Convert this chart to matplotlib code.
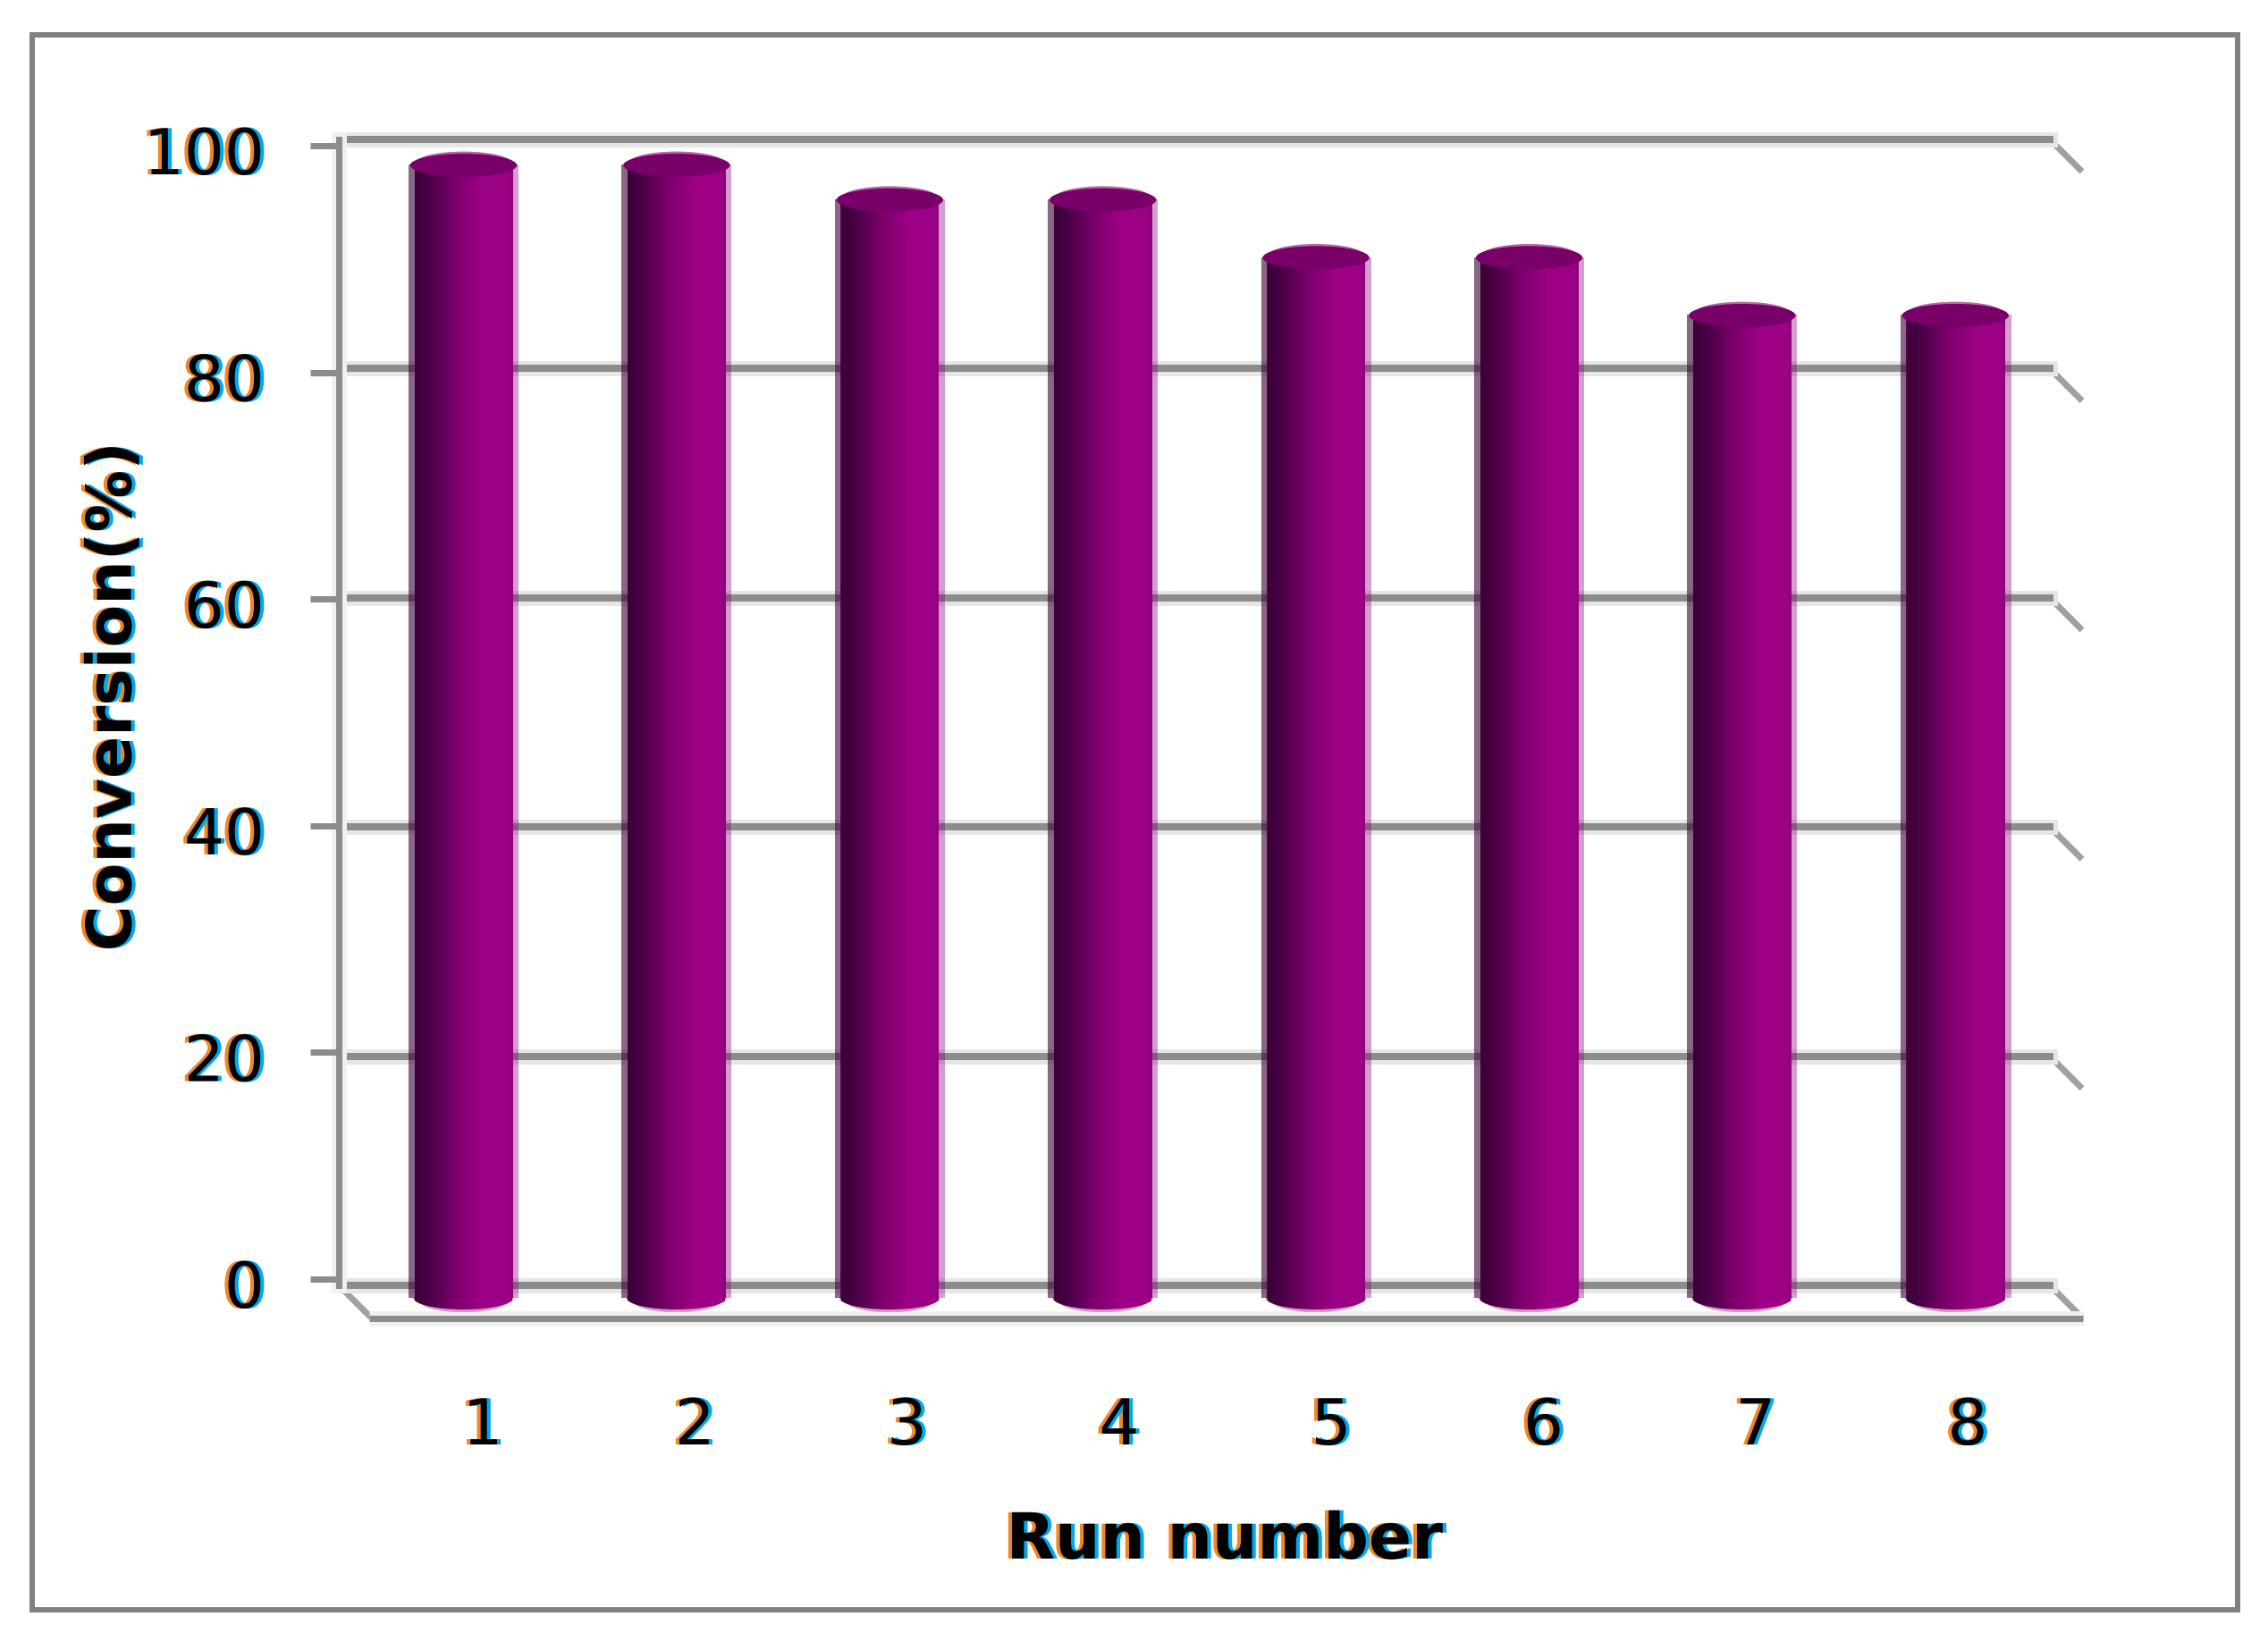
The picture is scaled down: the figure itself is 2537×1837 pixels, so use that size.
import numpy as np
import matplotlib
matplotlib.use("Agg")
import matplotlib.pyplot as plt
import matplotlib.patheffects as pe
from matplotlib.patches import Ellipse, Rectangle
from matplotlib.colors import to_rgba
from matplotlib.transforms import ScaledTranslation

runs = [1, 2, 3, 4, 5, 6, 7, 8]
conversion = [98, 98, 95, 95, 90, 90, 85, 85]
y_ticks = [0, 20, 40, 60, 80, 100]
x_label = "Run number"
y_label = "Conversion(%)"

W, H = 2537, 1837
DPI = 100
GREY = "#8c8c8c"
PX = 72 / DPI

plt.rcParams["font.family"] = ["DejaVu Sans"]
fig = plt.figure(figsize=(W / DPI, H / DPI), dpi=DPI, facecolor="white")


def rect(x0, x1, ytop, ybot):
    return [x0 / W, 1 - ybot / H, (x1 - x0) / W, (ybot - ytop) / H]


fringe = [pe.PathPatchEffect(offset=(-3.0, 0), facecolor="#f08820", edgecolor="none"),
          pe.PathPatchEffect(offset=(3.0, 0), facecolor="#00a8f0", edgecolor="none"),
          pe.Normal()]

# page overlay in pixels: frame, floor, depth lines
page = fig.add_axes([0, 0, 1, 1], zorder=0)
page.set_xlim(0, W)
page.set_ylim(H, 0)
page.axis("off")
page.add_patch(Rectangle((36, 39), 2467, 1762, fill=False, ec="#808080", lw=6 * PX))

# back wall
WL, WR, WT, WB = 379, 2293, 156, 1438
DEPTH_X, DEPTH_Y = 36, 36
wall = fig.add_axes(rect(WL, WR, WT, WB), zorder=1, facecolor="none")
wall.set_ylim(0, 100)
wall.set_xlim(0, 1)
wall.set_yticks(y_ticks)
wall.set_xticks([])
wall.tick_params(left=False, labelleft=False)
for s in ["top", "right", "bottom"]:
    wall.spines[s].set_visible(False)
wall.spines["left"].set_color(GREY)
wall.spines["left"].set_linewidth(7 * PX)
wall.spines["left"].set_path_effects(
    [pe.Stroke(linewidth=17 * PX, foreground="#f0f0f0"), pe.Normal()])
wall.grid(axis="y", color=GREY, lw=8 * PX, zorder=1, clip_on=False,
          path_effects=[pe.Stroke(linewidth=17 * PX, foreground="#e6e6e6"), pe.Normal()])

scale = (WB - WT) / 100
for v in y_ticks:
    y = WB - v * scale
    page.plot([WR, WR + DEPTH_X], [y, y + DEPTH_Y], color="#a0a0a0", lw=7 * PX,
              solid_capstyle="butt")
page.plot([WL, WL + DEPTH_X], [WB, WB + DEPTH_Y], color="#a0a0a0", lw=7 * PX,
          solid_capstyle="butt")
page.plot([WL + DEPTH_X - 2, WR + DEPTH_X + 1], [WB + DEPTH_Y + 1, WB + DEPTH_Y + 1],
          color=GREY, lw=7 * PX, solid_capstyle="butt",
          path_effects=[pe.Stroke(linewidth=17 * PX, foreground="#f0f0f0"), pe.Normal()])

# axis scale: tick marks and labels
scl = fig.add_axes(rect(WL, WR, 163, 1431), zorder=2, facecolor="none")
scl.set_ylim(0, 100)
scl.set_xlim(1 + (WL - 540) / 237.29, 1 + (WR - 540) / 237.29)
scl.set_yticks(y_ticks)
scl.set_xticks(runs)
for s in scl.spines.values():
    s.set_visible(False)
scl.tick_params(axis="y", color=GREY, width=7 * PX, length=32 * PX, pad=51 * PX,
                labelsize=51, labelcolor="black")
scl.tick_params(axis="x", length=0, pad=131 * PX, labelsize=51, labelcolor="black")
for t in scl.get_xticklabels() + scl.get_yticklabels():
    t.set_path_effects(fringe)
for t in scl.get_yticklabels():
    t.set_transform(t.get_transform() + ScaledTranslation(0, -5 / DPI, fig.dpi_scale_trans))
fig.text(1370 / W, 1 - 1724 / H, x_label, fontsize=51, fontweight="bold",
         ha="center", va="center", path_effects=fringe)
fig.text(127 / W, 1 - 779 / H, y_label, fontsize=50, fontweight="bold", rotation=90,
         ha="center", va="center", path_effects=fringe)

# cylinders
unit = (1452 - 159) / 100
ell_h = 26 / unit
bars = fig.add_axes(rect(WL, WR, 159, 1452 + 16), zorder=3, facecolor="none")
bars.axis("off")
step = 238.4
xlim = (1 + (WL - 518.5) / step, 1 + (WR - 518.5) / step)
outer = 123 / step
inner = 110 / step

stops = np.array([0.0, 0.05, 0.06, 0.15, 0.30, 0.42, 0.55, 0.66, 0.92, 0.945, 1.0])
cols = ["#3c0038", "#3c0038", "#3c0038", "#440040", "#600058", "#7c006c", "#8c0078",
        "#9b0085", "#9b0085", "#8a0078", "#8a0078"]
rgb = np.array([to_rgba(c) for c in cols])
t = np.linspace(0, 1, 123)
grad = np.zeros((1, t.size, 4))
for i in range(3):
    grad[0, :, i] = np.interp(t, stops, rgb[:, i])
grad[0, :, 3] = np.where(t < 0.05, 0.6, np.where(t > 0.945, 0.38, 1.0))

for r, v in zip(runs, conversion):
    x0, x1 = r - outer / 2, r + outer / 2
    bars.bar(r, v, width=inner, color="#990085", zorder=2)
    bars.imshow(grad, extent=[x0, x1, 0, v], aspect="auto", zorder=3,
                interpolation="nearest")
    # bottom curve
    bars.add_patch(Ellipse((r, -0.25), inner * 0.9, ell_h, fc="#d49ac8", ec="none", zorder=1))
    base = Ellipse((r, 0), inner * 1.02, ell_h, fc="none", ec="none")
    bars.add_patch(base)
    im = bars.imshow(grad, extent=[x0, x1, -ell_h, 0.05], aspect="auto", zorder=3,
                     interpolation="nearest")
    im.set_clip_path(base)
    # top cap
    bars.add_patch(Ellipse((r, v + 0.18), inner * 0.98, ell_h, fc="#b868a8", ec="none",
                           zorder=4, clip_on=False))
    bars.add_patch(Ellipse((r, v), outer * 0.97, ell_h, fc="#780068", ec="none",
                           zorder=5, clip_on=False))

bars.set_xlim(*xlim)
bars.set_ylim(-16 / unit, 100)

fig.savefig("out.png", dpi=DPI, facecolor="white")
